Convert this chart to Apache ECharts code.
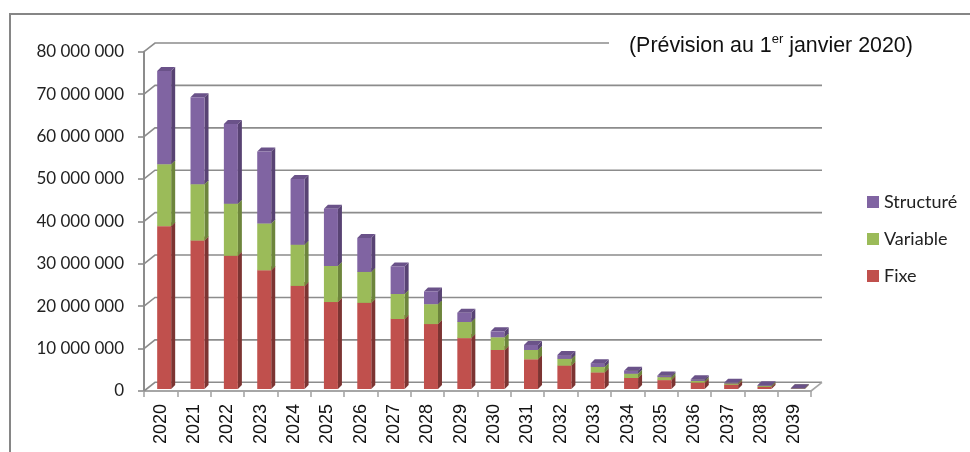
<!DOCTYPE html>
<html>
<head>
<meta charset="utf-8">
<style>
html, body { margin: 0; padding: 0; background: #fff; }
#main { width: 970px; height: 452px; }
</style>
<script src="https://cdn.jsdelivr.net/npm/echarts@6/dist/echarts.min.js"></script>
</head>
<body>
<div id="main"></div>
<script>
var years = ['2020', '2021', '2022', '2023', '2024', '2025', '2026', '2027', '2028', '2029', '2030', '2031', '2032', '2033', '2034', '2035', '2036', '2037', '2038', '2039'];
var yTicks = [0, 10000000, 20000000, 30000000, 40000000, 50000000, 60000000, 70000000, 80000000];
// valeurs
var fixe = [38400000, 35000000, 31400000, 28000000, 24300000, 20500000, 20300000, 16500000, 15300000, 12000000, 9200000, 7000000, 5500000, 3900000, 2600000, 2100000, 1500000, 1000000, 500000, 50000];
var variable = [14600000, 13300000, 12300000, 11000000, 9700000, 8500000, 7300000, 5900000, 4700000, 3800000, 3000000, 2200000, 1600000, 1300000, 1000000, 700000, 400000, 300000, 200000, 50000];
var structure = [22000000, 20500000, 18800000, 17000000, 15500000, 13500000, 8000000, 6500000, 3000000, 2200000, 1400000, 1200000, 900000, 900000, 700000, 400000, 400000, 200000, 200000, 100000];

var depthX = 11;
var depthY = 8.7;

var myChart = echarts.init(document.getElementById('main'));

function formatTick(v) {
  return String(v).replace(/\B(?=(\d{3})+$)/g, ' ');
}

// petit bar 3D : face, cote, dessus
function renderBar3d(sideColor, topColor) {
  return function (params, api) {
    var low = api.coord([api.value(0), api.value(1)]);
    var high = api.coord([api.value(0), api.value(2)]);
    var x0 = low[0] - 3.5;
    var x1 = x0 + 14;
    var y0 = low[1] - 2;
    var y1 = high[1] - 2;
    var d = 4;
    return {
      type: 'group',
      children: [
        { type: 'polygon', shape: { points: [[x1, y0], [x1 + d, y0 - d], [x1 + d, y1 - d], [x1, y1]] }, style: { fill: sideColor } },
        { type: 'polygon', shape: { points: [[x0, y1], [x0 + d, y1 - d], [x1 + d, y1 - d], [x1, y1]] }, style: { fill: topColor } },
        { type: 'rect', shape: { x: x0, y: y1, width: 14, height: y0 - y1 }, style: { fill: api.visual('color') } }
      ]
    };
  };
}

function renderWall(params, api) {
  var p = api.coord([0, api.value(0)]);
  var left = params.coordSys.x;
  var right = left + params.coordSys.width;
  return {
    type: 'polyline',
    shape: { points: [[left, p[1]], [left + depthX, p[1] - depthY], [right + depthX, p[1] - depthY]] },
    style: { fill: 'none', stroke: '#8c8c8c', lineWidth: 1.6 }
  };
}

function renderFloorEnd(params, api) {
  var p = api.coord([0, 0]);
  var right = params.coordSys.x + params.coordSys.width;
  return {
    type: 'line',
    shape: { x1: right, y1: p[1], x2: right + depthX, y2: p[1] - depthY },
    style: { stroke: '#a6a6a6', lineWidth: 1.6 }
  };
}

function stackData(values, below) {
  var out = [];
  for (var i = 0; i < values.length; i++) {
    var base = 0;
    for (var j = 0; j < below.length; j++) {
      base += below[j][i];
    }
    out.push([i, base, base + values[i]]);
  }
  return out;
}

var wallData = [];
for (var i = 0; i < yTicks.length; i++) {
  wallData.push([yTicks[i]]);
}

var option = {
  animation: false,
  backgroundColor: '#fff',
  title: {
    left: 609,
    top: 30,
    z: 10,
    backgroundColor: '#fff',
    padding: [3, 40, 3, 20],
    text: '{a|(Prévision au 1}{s|er}{a| janvier 2020)}',
    textStyle: {
      fontWeight: 'normal',
      rich: {
        a: { fontFamily: '"Liberation Sans"', fontWeight: 'normal', fontSize: 21.4, color: '#111', lineHeight: 26 },
        s: { fontFamily: '"Liberation Sans"', fontWeight: 'normal', fontSize: 13, color: '#111', lineHeight: 26, verticalAlign: 'top', padding: [0, 0, 5, 0] }
      }
    }
  },
  legend: {
    left: 862,
    top: 188,
    orient: 'vertical',
    icon: 'rect',
    itemWidth: 12,
    itemHeight: 12,
    itemGap: 19,
    selectedMode: false,
    textStyle: { fontFamily: 'Lato', fontSize: 18, color: '#222', padding: [0, 0, 0, 0] },
    data: ['Structuré', 'Variable', 'Fixe']
  },
  grid: { left: 144, top: 51.7, width: 667, height: 339.3 },
  xAxis: {
    type: 'category',
    data: years,
    axisLine: { lineStyle: { color: '#a6a6a6', width: 2 } },
    axisTick: { show: true, alignWithLabel: false, length: 6, lineStyle: { color: '#a6a6a6', width: 1.6 } },
    axisLabel: { rotate: 90, interval: 0, margin: 13, fontFamily: '"Liberation Sans"', fontSize: 18, color: '#111' }
  },
  yAxis: {
    type: 'value',
    min: 0,
    max: 80000000,
    interval: 10000000,
    splitLine: { show: false },
    axisLine: { show: true, lineStyle: { color: '#8c8c8c', width: 2 } },
    axisTick: { show: true, length: 6, lineStyle: { color: '#8c8c8c', width: 1.6 } },
    axisLabel: { margin: 20, fontFamily: 'Lato', fontSize: 17, color: '#222', formatter: formatTick }
  },
  series: [
    { type: 'custom', silent: true, z: 1, renderItem: renderWall, data: wallData, encode: { y: 0 }, clip: false },
    { type: 'custom', silent: true, z: 1, renderItem: renderFloorEnd, data: [[0]], encode: { y: 0 }, clip: false },
    { name: 'Fixe', type: 'custom', z: 3, renderItem: renderBar3d('#7c3432', '#a04341'), itemStyle: { color: '#C0504D' }, data: stackData(fixe, []), encode: { x: 0, y: [1, 2] }, clip: false },
    { name: 'Variable', type: 'custom', z: 3, renderItem: renderBar3d('#6d853c', '#87a34c'), itemStyle: { color: '#9BBB59' }, data: stackData(variable, [fixe]), encode: { x: 0, y: [1, 2] }, clip: false },
    { name: 'Structuré', type: 'custom', z: 3, renderItem: renderBar3d('#584373', '#6a5289'), itemStyle: { color: '#8064A2' }, data: stackData(structure, [fixe, variable]), encode: { x: 0, y: [1, 2] }, clip: false }
  ],
  graphic: [{
    type: 'polyline',
    z: 0,
    shape: { points: [[10, 452], [10, 14], [970, 14]] },
    style: { fill: 'none', stroke: '#868686', lineWidth: 2 }
  }]
};

myChart.setOption(option);
</script>
</body>
</html>
